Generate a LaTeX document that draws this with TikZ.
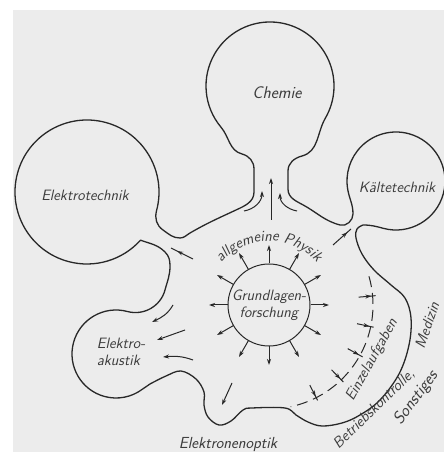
\documentclass[tikz,border=0pt]{standalone}
\usetikzlibrary{arrows.meta,calc,decorations.text,decorations.markings}

\definecolor{paper}{RGB}{236,236,236}
\definecolor{ink}{RGB}{40,40,40}
\definecolor{lbl}{RGB}{60,60,60}
\newcommand{\labfont}{\sffamily\itshape\fontsize{15}{17}\selectfont}

\tikzset{
  outline/.style={ink, line width=1.3pt, line join=round},
  ray/.style={ink, line width=1pt, -{Stealth[length=6pt,width=4pt]}},
  midtip/.style={ink, line width=1pt, postaction={decorate},
    decoration={markings, mark=at position #1 with {\arrow{Stealth[length=6pt,width=4pt]}}}},
  midtip/.default=0.7,
  lab/.style={text=lbl, font=\labfont, inner sep=0pt},
  curvedlab/.style={decorate, decoration={text along path, text color=lbl,
    text align=center, text={|\labfont|#1}}},
}

\begin{document}
\begin{tikzpicture}[x=1pt,y=1pt]
\useasboundingbox (0,0) rectangle (444,459);
\fill[white] (0,0) rectangle (444,459);
\fill[paper] (13,7) rectangle (444,449);

% centres of the bubbles
\coordinate (Mchem) at (270,373);
\coordinate (Melek) at (87,267);
\coordinate (Mkael) at (396,278);
\coordinate (Makus) at (116,105);

% outline of the whole field
\draw[outline] ($(Mchem)+(-30:64)$) arc[start angle=-30, end angle=220, radius=64]
  to[out=-50,in=165] (242,305) to[out=-15,in=90] (254,290) -- (254,267)
  to[out=-90,in=25] (236,249) to[out=205,in=30] (190,226) to[out=210,in=0] (180,221)
  to[out=180,in=-35] (163,229) to[out=145,in=-105] ($(Melek)+(-15:72)$)
  arc[start angle=-15, end angle=318, radius=72]
  to[out=-20,in=135] (165,207) to[out=-45,in=90] (170,193) to[out=-90,in=75] (165,169)
  to[out=-105,in=-15] ($(Makus)+(75:44)$)
  arc[start angle=75, end angle=307, radius=44]
  -- plot[smooth, tension=0.6] coordinates {(150,75) (166,83) (181,88) (196,80) (204,67)
     (204,54) (208,42) (219,34) (231,38) (243,49) (252,51) (285,51) (296,44) (308,37)
     (322,33) (342,36) (360,44) (380,59) (399,85) (409,114) (411,141) (405,161)
     (391,174) (374,189) (362,205) (356,221) (357,230) (363,234)}
  to[out=0,in=165] ($(Mkael)+(255:49)$)
  arc[start angle=255, end angle=550, radius=49]
  to[out=-80,in=90] (353,245) to[out=-90,in=-15] (340,234) to[out=165,in=-30] (305,253)
  to[out=150,in=-90] (288,270) -- (288,288) to[out=90,in=195] (302,303)
  to[out=15,in=240] ($(Mchem)+(-30:64)$) -- cycle;

\node[lab, font=\sffamily\itshape\fontsize{17}{19}\selectfont] (chemie) at (277,366) {Chemie};
\node[lab] (etechnik) at (85,264) {Elektrotechnik};
\node[lab] (kaelte) at (397,272) {Kältetechnik};
\node[lab, align=left] (akustik) at (121,107) {Elektro-\\akustik};
\node[lab, font=\sffamily\itshape\fontsize{16}{18}\selectfont] (optik) at (228,14) {Elektronenoptik};

\node[circle, draw=ink, line width=1pt, minimum size=82pt, lab, align=center] (grund) at (269,154) {Grundlagen-\\forschung};
\foreach \a in {0,30,...,330}
  \draw[ray] (grund.\a) -- ($(grund.center)+(\a:60)$);
\path[curvedlab={allgemeine Physik}] ($(grund.center)+(152:64)$) arc[start angle=152, end angle=28, radius=64];

% into the necks
\draw[ray] (271,239) -- (271,281);
\draw[ray] (244,248) to[out=10,in=-90] (262,268);
\draw[ray] (297,248) to[out=170,in=-90] (280,266);
\draw[midtip=0.72] (193,200) -- (171,211);
\draw[midtip=0.8] (333,214) -- (351,230);
\draw[ray] (173,154) to[out=240,in=25] (152,137);
\draw[ray] (185,129) -- (157,119);
\draw[ray] (193,99) to[out=160,in=5] (163,102);
\draw[ray] (232,76) -- (222,54);

% the dashed ring with the small arrows
\draw[ink, line width=1pt, dash pattern=on 11pt off 6pt] ($(grund.center)+(16:104)$) arc[start angle=16, end angle=-78, radius=104];
\foreach \a in {5,-12,-29,-46,-63}
  \draw[midtip=0.75] ($(grund.center)+(\a:90)$) -- ($(grund.center)+(\a:107)$);

\node[lab, rotate=61] (einzel) at (372,99) {Einzelaufgaben};
\node[lab, rotate=44] (betrieb) at (374,50) {Betriebskontrolle,};
\node[lab, rotate=71] (medizin) at (427,134) {Medizin};
\node[lab, font=\sffamily\itshape\fontsize{17}{19}\selectfont, rotate=53] (sonst) at (416,61) {Sonstiges};
\end{tikzpicture}
\end{document}
